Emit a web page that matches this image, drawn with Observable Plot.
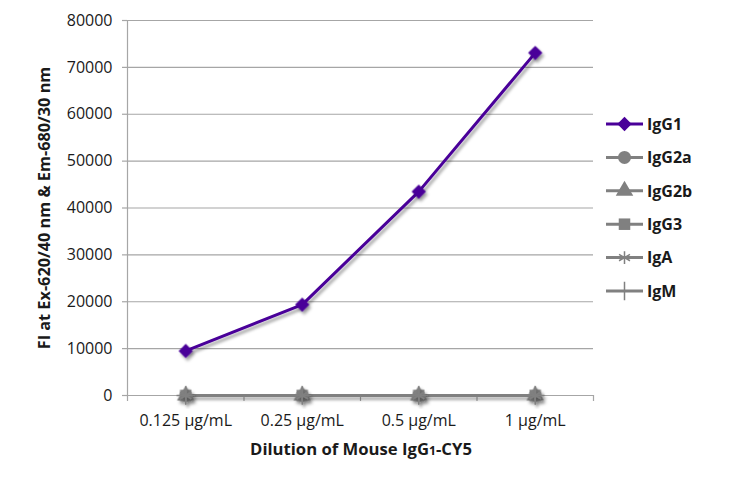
<!DOCTYPE html>
<html><head><meta charset="utf-8">
<script src="https://cdn.jsdelivr.net/npm/d3@7"></script>
<script src="https://cdn.jsdelivr.net/npm/@observablehq/plot@0.6"></script>
<style>body{margin:0;background:#fff;}</style>
</head><body><div id="chart"></div>
<script>
const categories = ["0.125 µg/mL", "0.25 µg/mL", "0.5 µg/mL", "1 µg/mL"];
const seriesNames = ["IgG1", "IgG2a", "IgG2b", "IgG3", "IgA", "IgM"];
const IgG1 = [9500, 19400, 43500, 73100];
const IgG2a = [0, 0, 0, 0];
const IgG2b = [0, 0, 0, 0];
const IgG3 = [0, 0, 0, 0];
const IgA = [0, 0, 0, 0];
const IgM = [0, 0, 0, 0];
const seriesValues = [IgG1, IgG2a, IgG2b, IgG3, IgA, IgM];
const yTicks = [0, 10000, 20000, 30000, 40000, 50000, 60000, 70000, 80000];
const yTitle = "FI at Ex-620/40 nm & Em-680/30 nm";
const xTitleMain = "Dilution of Mouse IgG";
const xTitleSub = "1";
const xTitleEnd = "-CY5";

const purple = "#4a0099", gray = "#808080", gridGray = "#a6a6a6";
const seriesColors = [purple, gray, gray, gray, gray, gray];

const diamondSym = {draw(ctx, size) { const r = Math.sqrt(size) * 0.62; ctx.moveTo(0, -r); ctx.lineTo(r, 0); ctx.lineTo(0, r); ctx.lineTo(-r, 0); ctx.closePath(); }};
const seriesSymbols = [diamondSym, d3.symbolCircle, d3.symbolTriangle, d3.symbolSquare, d3.symbolAsterisk, d3.symbolPlus];
const strokeOnly = [false, false, false, false, true, true];

const rows = [];
seriesNames.forEach((s, k) => seriesValues[k].forEach((v, i) => rows.push({series: s, xi: i + 0.5, value: v, k})));
const filledRows = rows.filter(d => !strokeOnly[d.k]);
const strokeRows = rows.filter(d => strokeOnly[d.k]);

const chart = Plot.plot({
  width: 730, height: 478,
  marginLeft: 127, marginRight: 137, marginTop: 20, marginBottom: 83,
  style: {fontFamily: "Open Sans", fontSize: "16px", color: "#1a1a1a", background: "#fff"},
  x: {type: "linear", domain: [0, 4]},
  y: {domain: [0, 80000]},
  color: {domain: seriesNames, range: seriesColors},
  symbol: {domain: seriesNames, range: seriesSymbols},
  marks: [
    Plot.gridY(yTicks, {stroke: gridGray, strokeOpacity: 1, strokeWidth: 1.2}),
    Plot.axisY(yTicks, {tickSize: 5, tickPadding: 10, stroke: gridGray, strokeWidth: 1.2, tickFormat: d3.format("d"), label: null, fontSize: 16}),
    Plot.ruleX([0], {stroke: gridGray, strokeWidth: 1.2}),
    Plot.ruleY([0], {stroke: gridGray, strokeWidth: 1.2}),
    Plot.axisX([0, 1, 2, 3, 4], {tickSize: 6, stroke: gridGray, strokeWidth: 1.2, tickFormat: () => "", label: null}),
    Plot.axisX(categories.map((c, i) => i + 0.5), {tickSize: 0, tickPadding: 19, tickFormat: d => categories[Math.floor(d)], label: null, fontSize: 16}),
    Plot.line(rows, {x: "xi", y: "value", z: "series", stroke: "series", strokeWidth: 3}),
    Plot.dot(filledRows, {x: "xi", y: "value", symbol: "series", fill: "series", r: 6.5}),
    Plot.dot(strokeRows, {x: "xi", y: "value", symbol: "series", stroke: "series", strokeWidth: 1.5, r: 6})
  ]
});

const svg = d3.select(chart);
const defs = svg.insert("defs", ":first-child");
const f = defs.append("filter").attr("id", "shadow").attr("x", "-20%").attr("y", "-20%").attr("width", "140%").attr("height", "140%");
f.append("feDropShadow").attr("dx", 2).attr("dy", 3).attr("stdDeviation", 1.6).attr("flood-color", "#000").attr("flood-opacity", 0.35);
svg.selectAll("g[aria-label=line], g[aria-label=dot]").attr("filter", "url(#shadow)");

// Y title
const yt = svg.append("text").attr("transform", "translate(50,208) rotate(-90)")
  .attr("text-anchor", "middle").attr("font-family", "Open Sans").attr("font-weight", "bold")
  .attr("font-size", 14.5).attr("fill", "#1a1a1a").text(yTitle);
// X title
const xt = svg.append("text").attr("x", 361).attr("y", 455).attr("text-anchor", "middle")
  .attr("font-family", "Open Sans").attr("font-weight", "bold").attr("font-size", 16.5).attr("fill", "#1a1a1a");
xt.append("tspan").text(xTitleMain);
xt.append("tspan").attr("class", "sub").attr("font-size", 12).text(xTitleSub);
xt.append("tspan").text(xTitleEnd);

// Legend
const lg = svg.append("g").attr("font-family", "Open Sans").attr("font-weight", "bold").attr("font-size", 16).attr("text-anchor", "start");
seriesNames.forEach((s, k) => {
  const y = 124 + k * 33.4;
  const g = lg.append("g").attr("transform", `translate(0,${y})`);
  g.append("line").attr("x1", 606).attr("x2", 643).attr("y1", 0).attr("y2", 0).attr("stroke", seriesColors[k]).attr("stroke-width", 3);
  const p = g.append("path").attr("transform", "translate(624.5,0)")
    .attr("d", d3.symbol(seriesSymbols[k], (strokeOnly[k] ? 6 : 6.5) ** 2 * Math.PI)());
  if (strokeOnly[k]) p.attr("fill", "none").attr("stroke", seriesColors[k]).attr("stroke-width", 1.5);
  else p.attr("fill", seriesColors[k]);
  g.append("text").attr("x", 647).attr("y", 0).attr("dy", "0.36em").attr("fill", "#1a1a1a").text(s);
});

document.getElementById("chart").appendChild(chart);

// Fit titles to the reference's extents
function fit(sel, target) {
  const n = sel.node();
  const w = n.getComputedTextLength ? n.getComputedTextLength() : n.getBBox().width;
  if (w > 0) {
    const fs = +sel.attr("font-size") * target / w;
    sel.attr("font-size", fs);
    sel.selectAll("tspan.sub").attr("font-size", fs * 0.73);
  }
}
fit(yt, 283);
fit(xt, 222);
</script>
</body></html>
